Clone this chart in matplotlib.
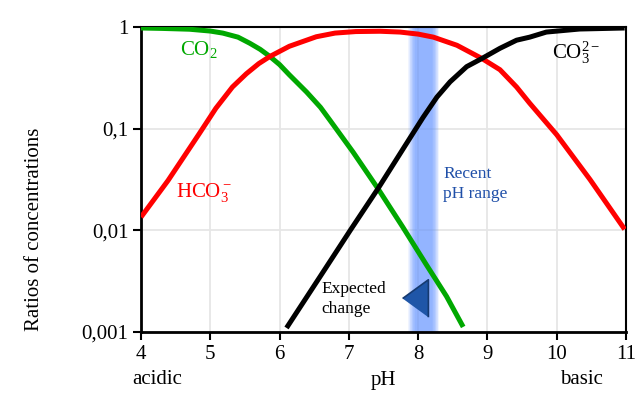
import matplotlib
matplotlib.use("Agg")
import matplotlib.pyplot as plt
import numpy as np

plt.rcParams['font.family'] = ['Liberation Serif', 'DejaVu Serif']
plt.rcParams['mathtext.fontset'] = 'custom'
plt.rcParams['mathtext.rm'] = 'Liberation Serif'
plt.rcParams['mathtext.it'] = 'Liberation Serif:italic'

# data (log10 of ratio)
co2_ph = [4.0, 4.3, 4.7, 5.0, 5.18, 5.4, 5.57, 5.72, 5.86, 6.0, 6.14, 6.39, 6.59, 6.73,
          7.06, 7.42, 7.78, 8.12, 8.41, 8.65]
co2_log = [-0.01, -0.014, -0.022, -0.04, -0.06, -0.10, -0.16, -0.22, -0.29, -0.37, -0.47,
           -0.64, -0.79, -0.92, -1.23, -1.59, -1.97, -2.34, -2.65, -2.95]

hco3_ph = [4.0, 4.39, 4.84, 5.08, 5.32, 5.52, 5.7, 5.86, 6.14, 6.53, 6.8, 7.1, 7.45, 7.74,
           8.0, 8.22, 8.56, 8.92, 9.18, 9.42, 9.61, 10.0, 10.48, 10.98]
hco3_log = [-1.87, -1.51, -1.05, -0.80, -0.59, -0.46, -0.36, -0.29, -0.19, -0.096, -0.06,
            -0.045, -0.042, -0.05, -0.07, -0.10, -0.18, -0.31, -0.42, -0.59, -0.75, -1.06,
            -1.50, -1.99]

co3_ph = [6.1, 6.58, 7.02, 7.42, 7.8, 8.07, 8.27, 8.46, 8.7, 8.92, 9.18, 9.42, 9.61, 9.85,
          10.33, 10.98]
co3_log = [-2.96, -2.46, -2.0, -1.59, -1.18, -0.89, -0.69, -0.54, -0.39, -0.31, -0.21,
           -0.13, -0.10, -0.05, -0.02, -0.01]

x_ticks = [4, 5, 6, 7, 8, 9, 10, 11]
y_ticks = [0.001, 0.01, 0.1, 1]
y_ticklabels = ['0,001', '0,01', '0,1', '1']

recent_range = (7.86, 8.30)
expected_change = (7.96, 0.00214)

fig = plt.figure(figsize=(6.43, 3.98), dpi=100)
ax = fig.add_axes([0.2193, 0.1658, 0.9736 - 0.2193, 0.9322 - 0.1658])
ax.set_yscale('log')
ax.set_xlim(4, 11)
ax.set_ylim(0.001, 1)

# blue band with soft edges
lo, hi = recent_range
c = (lo + hi) / 2
hw = (hi - lo) / 2
for f in np.linspace(1.0, 0.55, 12):
    ax.axvspan(c - hw * f, c + hw * f, color='#6f9cff', alpha=0.1, lw=0, zorder=1)

ax.plot(co2_ph, 10 ** np.array(co2_log), color='#00a800', lw=3.6, zorder=3, solid_capstyle='butt')
ax.plot(hco3_ph, 10 ** np.array(hco3_log), color='#ff0000', lw=3.6, zorder=3, solid_capstyle='butt')
ax.plot(co3_ph, 10 ** np.array(co3_log), color='black', lw=3.6, zorder=3, solid_capstyle='butt')

tri = [(-0.687, 0), (0.687, 1), (0.687, -1)]
ax.plot([expected_change[0]], [expected_change[1]], marker=tri, ms=27, color='#1f56a8',
        mec='#163a70', mew=1.2, zorder=4, clip_on=False)

ax.set_xticks(x_ticks)
ax.set_yticks(y_ticks)
ax.set_yticklabels(y_ticklabels)
ax.minorticks_off()
ax.grid(True, color='#e6e6e6', lw=1.3, zorder=0)
ax.set_axisbelow(True)
ax.tick_params(direction='out', length=6, width=1.5, labelsize=15, pad=3)
for s in ['left', 'bottom']:
    ax.spines[s].set_linewidth(2)
for s in ['top', 'right']:
    ax.spines[s].set_linewidth(1.5)

ax.text(4.56, 0.53, r'CO$_2$', color='#00a800', fontsize=15, ha='left', va='baseline')
ax.text(4.51, 0.0211, r'HCO$_3^-$', color='#ff0000', fontsize=15, ha='left', va='baseline')
ax.text(9.93, 0.492, r'CO$_3^{2-}$', color='black', fontsize=15, ha='left', va='baseline')
ax.text(8.36, 0.0327, 'Recent', color='#1f4fa8', fontsize=12.5, ha='left', va='baseline')
ax.text(8.36, 0.0208, 'pH range', color='#1f4fa8', fontsize=12.5, ha='left', va='baseline')
ax.text(6.61, 0.0024, 'Expected', color='black', fontsize=12.5, ha='left', va='baseline')
ax.text(6.61, 0.00153, 'change', color='black', fontsize=12.5, ha='left', va='baseline')

fig.text(0.054, 0.4246, 'Ratios of concentrations', rotation=90, fontsize=15, ha='center', va='center')
fig.text(157 / 643, 1 - 380 / 398, 'acidic', fontsize=15, ha='center', va='center')
fig.text(383 / 643, 1 - 380 / 398, 'pH', fontsize=15, ha='center', va='center')
fig.text(581 / 643, 1 - 380 / 398, 'basic', fontsize=15, ha='center', va='center')

fig.savefig('out.png', dpi=100)
